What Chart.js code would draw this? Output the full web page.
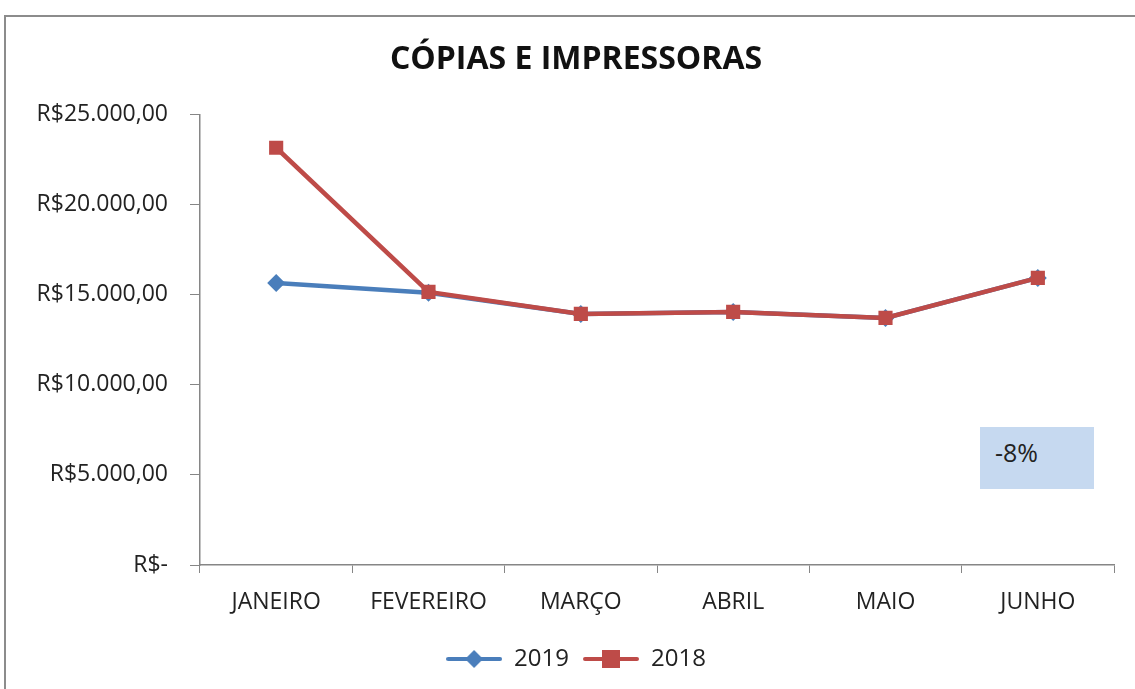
<!DOCTYPE html>
<html>
<head>
<meta charset="utf-8">
<script src="https://cdn.jsdelivr.net/npm/chart.js@4.4.1/dist/chart.umd.min.js"></script>
<style>
  html, body { margin: 0; padding: 0; background: #fff; overflow: hidden; }
  #wrap { position: relative; width: 1135px; height: 689px; }
  #frame { position: absolute; left: 4px; top: 15px; width: 1140px; height: 700px; border: 2px solid #8c8c8c; box-sizing: border-box; pointer-events: none; }
  #note { position: absolute; left: 980px; top: 427px; width: 114px; height: 62px; background: #c6d9f0; font-family: "Open Sans", sans-serif; font-size: 25px; color: #222; box-sizing: border-box; padding: 8px 0 0 15px; }
  canvas { position: absolute; left: 0; top: 0; }
</style>
</head>
<body>
<div id="wrap">
  <canvas id="copias-chart" width="1135" height="689"></canvas>
  <div id="frame"></div>
  <div id="note">-8%</div>
</div>
<script>
  const months = ['JANEIRO', 'FEVEREIRO', 'MARÇO', 'ABRIL', 'MAIO', 'JUNHO'];
  const values2019 = [15650, 15100, 13930, 14040, 13710, 15930];
  const values2018 = [23150, 15150, 13930, 14040, 13710, 15930];
  const yTicks = [0, 5000, 10000, 15000, 20000, 25000];

  const blue = '#4a7ebb';
  const red = '#be4b48';
  const axisColor = '#868686';
  const fontFamily = '"Open Sans", sans-serif';

  function formatReal(v) {
    if (v === 0) return 'R$-';
    const parts = Math.round(v).toString().replace(/\B(?=(\d{3})+(?!\d))/g, '.');
    return 'R$' + parts + ',00';
  }

  // legend swatch: line with marker in the middle
  function makeSwatch(color, shape) {
    const c = document.createElement('canvas');
    c.width = 56; c.height = 20;
    const g = c.getContext('2d');
    g.strokeStyle = color;
    g.lineWidth = 4;
    g.lineCap = 'round';
    g.beginPath(); g.moveTo(2, 10); g.lineTo(54, 10); g.stroke();
    g.fillStyle = color;
    if (shape === 'diamond') {
      g.beginPath(); g.moveTo(28, 1); g.lineTo(37, 10); g.lineTo(28, 19); g.lineTo(19, 10); g.closePath(); g.fill();
    } else {
      g.fillRect(19, 1, 18, 18);
    }
    return c;
  }
  const swatch2019 = makeSwatch(blue, 'diamond');
  const swatch2018 = makeSwatch(red, 'square');

  const ctx = document.getElementById('copias-chart');
  new Chart(ctx, {
    type: 'line',
    data: {
      labels: months,
      datasets: [{
        label: '2019',
        data: values2019,
        borderColor: blue,
        backgroundColor: blue,
        borderWidth: 4.5,
        pointStyle: 'rectRot',
        pointRadius: 9,
        pointBorderWidth: 0,
        legendSwatch: swatch2019,
        order: 2,
        tension: 0
      }, {
        label: '2018',
        data: values2018,
        borderColor: red,
        backgroundColor: red,
        borderWidth: 4.5,
        pointStyle: 'rect',
        pointRadius: 10,
        pointBorderWidth: 0,
        legendSwatch: swatch2018,
        order: 1,
        tension: 0
      }]
    },
    options: {
      responsive: false,
      animation: false,
      layout: {
        padding: { left: 38, right: 21, top: 0, bottom: 8 }
      },
      scales: {
        x: {
          offset: true,
          grid: {
            display: true,
            offset: true,
            drawOnChartArea: false,
            drawTicks: true,
            tickLength: 8,
            color: axisColor
          },
          border: { color: axisColor, width: 1.5 },
          ticks: {
            color: '#222',
            font: { family: fontFamily, size: 23 },
            padding: 16,
            maxRotation: 0
          },
          afterFit: function (scale) { scale.height = 68; }
        },
        y: {
          min: 0,
          max: 25000,
          afterBuildTicks: function (scale) {
            scale.ticks = yTicks.map(v => ({ value: v }));
          },
          grid: {
            display: true,
            drawOnChartArea: false,
            drawTicks: true,
            tickLength: 10,
            color: axisColor
          },
          border: { color: axisColor, width: 1.5 },
          ticks: {
            color: '#222',
            font: { family: fontFamily, size: 23 },
            padding: 22,
            callback: function (value) { return formatReal(value); }
          },
          afterFit: function (scale) { scale.width = 162; }
        }
      },
      plugins: {
        title: {
          display: true,
          text: 'CÓPIAS E IMPRESSORAS',
          color: '#111',
          font: { family: fontFamily, size: 32, weight: 'bold' },
          padding: { top: 41, bottom: 35 }
        },
        legend: {
          display: true,
          position: 'bottom',
          labels: {
            usePointStyle: true,
            pointStyleWidth: 56,
            boxHeight: 20,
            color: '#222',
            font: { family: fontFamily, size: 24 },
            padding: 14,
            generateLabels: function (chart) {
              return chart.data.datasets.map((ds, i) => ({
                text: ds.label,
                pointStyle: ds.legendSwatch,
                fillStyle: ds.borderColor,
                strokeStyle: ds.borderColor,
                lineWidth: 0,
                hidden: false,
                datasetIndex: i,
                fontColor: '#222'
              }));
            }
          }
        },
        tooltip: { enabled: false }
      }
    }
  });
</script>
</body>
</html>
